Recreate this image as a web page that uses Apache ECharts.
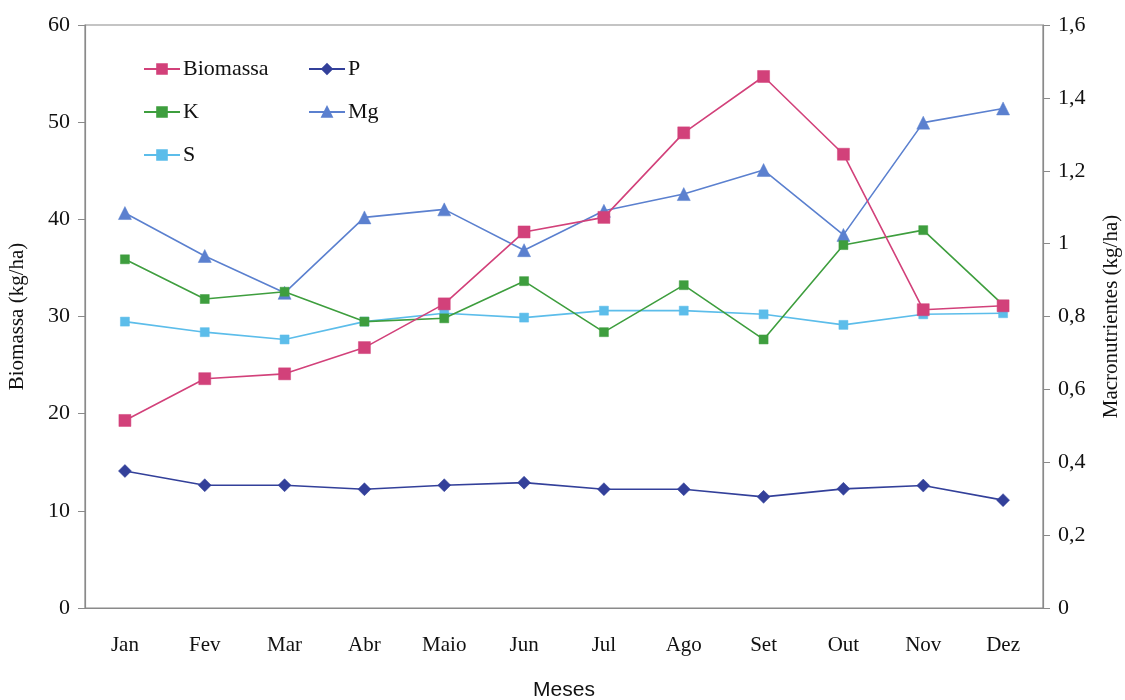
<!DOCTYPE html>
<html><head><meta charset="utf-8">
<script src="https://cdn.jsdelivr.net/npm/echarts@6/dist/echarts.min.js"></script>
<style>html,body{margin:0;padding:0;background:#fff}#c{width:1125px;height:700px}</style>
</head><body><div id="c"></div>
<script>
const months = ['Jan','Fev','Mar','Abr','Maio','Jun','Jul','Ago','Set','Out','Nov','Dez'];
const biomassa = [19.3, 23.6, 24.1, 26.8, 31.3, 38.7, 40.2, 48.9, 54.7, 46.7, 30.7, 31.1];
const pVals = [0.376, 0.337, 0.337, 0.326, 0.337, 0.344, 0.326, 0.326, 0.305, 0.327, 0.336, 0.296];
const kVals = [0.957, 0.848, 0.868, 0.786, 0.795, 0.897, 0.757, 0.886, 0.737, 0.996, 1.037, 0.832];
const mgVals = [1.084, 0.966, 0.865, 1.072, 1.094, 0.982, 1.090, 1.136, 1.202, 1.024, 1.332, 1.371];
const sVals = [0.786, 0.757, 0.737, 0.786, 0.809, 0.797, 0.816, 0.816, 0.806, 0.777, 0.806, 0.809];

const serif = 'Liberation Serif';
const axisCol = '#8a8a8a';
const chart = echarts.init(document.getElementById('c'));
function ser(name, data, yIdx, color, symbol, size, z) {
  return {name, type:'line', data, yAxisIndex:yIdx, symbol, symbolSize:size, z:z,
    lineStyle:{color, width:1.6}, itemStyle:{color, borderColor:color, borderWidth:0.5}};
}
const legendCommon = {orient:'vertical', itemGap:21, itemWidth:36, itemHeight:12,
  textStyle:{fontFamily:serif, fontSize:22, color:'#111', padding:[0,0,0,-2]}};
chart.setOption({
  animation:false,
  backgroundColor:'#fff',
  grid:{left:85, right:82, top:25, bottom:92, show:true, borderColor:axisCol, borderWidth:1.2,
    outerBoundsMode:'none', containLabel:false},
  legend:[
    Object.assign({left:138, top:53, data:['Biomassa','K','S']}, legendCommon),
    Object.assign({left:303, top:53, data:['P','Mg']}, legendCommon)
  ],
  xAxis:{type:'category', data:months, boundaryGap:true,
    name:'Meses', nameLocation:'middle', nameGap:72,
    nameTextStyle:{fontFamily:'Liberation Sans', fontSize:21, color:'#111'},
    axisLine:{lineStyle:{color:axisCol, width:1.2}},
    axisTick:{length:7, lineStyle:{color:axisCol}},
    axisLabel:{fontFamily:serif, fontSize:21, color:'#111', margin:27},
    splitLine:{show:false}},
  yAxis:[
    {type:'value', min:0, max:60, interval:10, position:'left',
     name:'Biomassa (kg/ha)', nameLocation:'middle', nameGap:57,
     nameTextStyle:{fontFamily:serif, fontSize:21, color:'#111'},
     axisLine:{show:true, lineStyle:{color:axisCol, width:1.2}},
     axisTick:{show:true, length:7, lineStyle:{color:axisCol}},
     axisLabel:{fontFamily:serif, fontSize:22, color:'#111', margin:15},
     splitLine:{show:false}},
    {type:'value', min:0, max:1.6, interval:0.2, position:'right',
     name:'Macronutrientes (kg/ha)', nameLocation:'middle', nameGap:58,
     nameTextStyle:{fontFamily:serif, fontSize:21, color:'#111'},
     axisLine:{show:true, lineStyle:{color:axisCol, width:1.2}},
     axisTick:{show:true, length:7, lineStyle:{color:axisCol}},
     axisLabel:{fontFamily:serif, fontSize:22, color:'#111', margin:15,
       formatter:v=>String(Math.round(v*10)/10).replace('.',',')},
     splitLine:{show:false}}
  ],
  series:[
    ser('Biomassa', biomassa, 0, '#D2417A', 'rect', 12, 5),
    ser('P', pVals, 1, '#33409A', 'diamond', 13, 4),
    ser('K', kVals, 1, '#3E9E3E', 'rect', 9, 3),
    ser('Mg', mgVals, 1, '#5B80CF', 'triangle', 13, 2),
    ser('S', sVals, 1, '#5CBDEA', 'rect', 9, 1)
  ]
});
</script></body></html>
